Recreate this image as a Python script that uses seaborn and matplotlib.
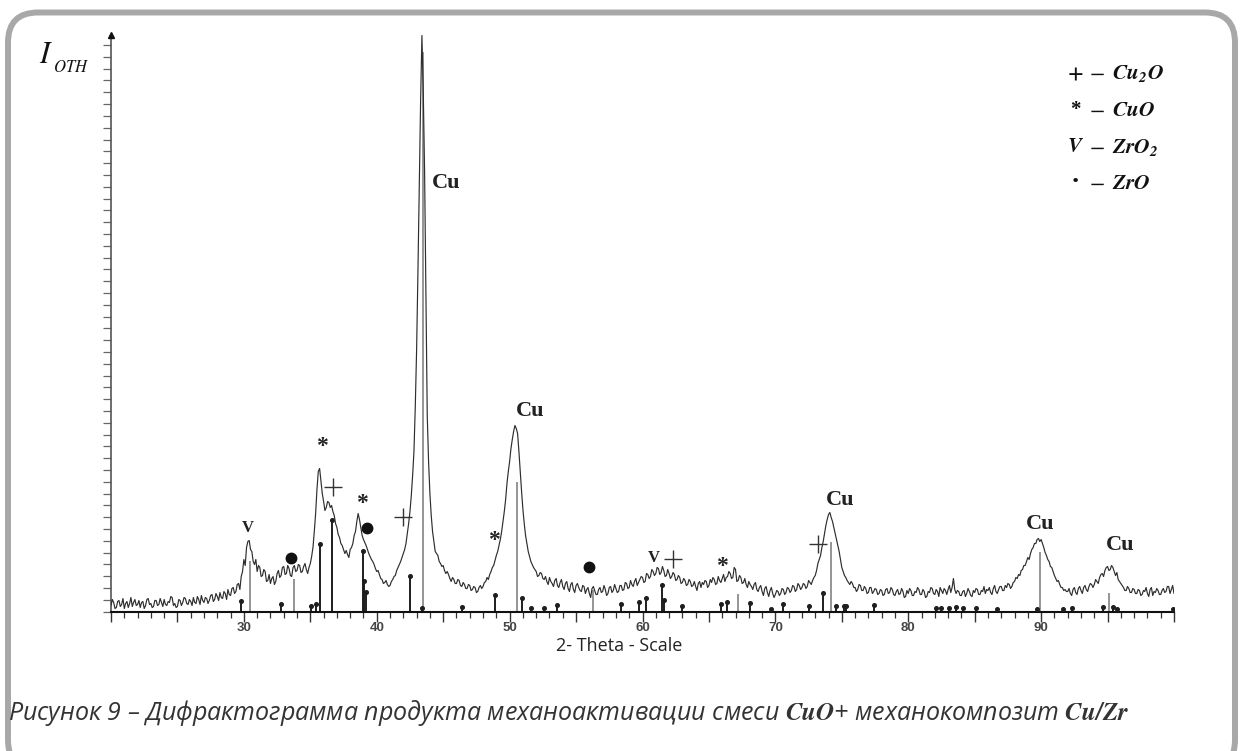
import numpy as np
import pandas as pd
import matplotlib
matplotlib.use("Agg")
import matplotlib.pyplot as plt
import seaborn as sns
from matplotlib.patches import FancyBboxPatch
from matplotlib.transforms import IdentityTransform
from matplotlib.ticker import MultipleLocator, FuncFormatter

# ---------------- data ----------------
theta_start = 20.0
theta_step = 0.1
intensity = [
    6, 12, 9, 3, 4, 10, 11, 5, 7, 13,          # 20
    3, 8, 10, 4, 8, 14, 5, 9, 12, 6,           # 21
    7, 11, 4, 9, 10, 3, 6, 12, 13, 7,          # 22
    8, 4, 5, 11, 11, 6, 7, 13, 9, 5,           # 23
    12, 7, 6, 10, 9, 15, 14, 6, 8, 4,          # 24
    5, 12, 11, 6, 9, 14, 13, 8, 7, 12,         # 25
    10, 6, 14, 9, 8, 15, 12, 7, 16, 11,        # 26
    9, 14, 13, 8, 11, 16, 17, 10, 12, 18,      # 27
    15, 11, 19, 14, 13, 20, 18, 12, 22, 17,    # 28
    16, 23, 24, 18, 20, 27, 28, 22, 35, 40,    # 29
    52, 46, 64, 70, 71, 62, 60, 50, 47, 52,    # 30
    40, 46, 44, 35, 36, 42, 40, 30, 31, 37,    # 31
    28, 33, 35, 27, 30, 38, 41, 34, 36, 44,    # 32
    45, 37, 38, 46, 43, 36, 35, 44, 46, 40,    # 33
    41, 47, 46, 39, 40, 45, 48, 42, 38, 44,    # 34
    48, 55, 64, 80, 98, 122, 140, 143, 130, 118,   # 35
    110, 101, 104, 110, 109, 104, 106, 100, 96, 88,  # 36
    84, 77, 74, 68, 66, 62, 58, 61, 57, 54,    # 37
    62, 64, 68, 76, 80, 90, 98, 92, 84, 76,    # 38
    72, 69, 66, 62, 58, 55, 52, 50, 47, 43,    # 39
    40, 41, 37, 33, 32, 28, 29, 31, 27, 25,    # 40
    26, 30, 32, 35, 36, 41, 44, 47, 50, 54,    # 41
    58, 62, 68, 78, 88, 100, 116, 136, 160, 205,   # 42
    262, 340, 425, 510, 576, 520, 440, 320, 196, 150,  # 43
    118, 96, 80, 70, 60, 58, 56, 50, 48, 45,   # 44
    46, 41, 38, 40, 37, 33, 30, 34, 32, 28,    # 45
    28, 32, 31, 26, 25, 29, 27, 23, 23, 27,    # 46
    26, 21, 22, 25, 24, 19, 20, 24, 26, 23,    # 47
    25, 29, 30, 34, 32, 37, 40, 44, 46, 51,    # 48
    56, 60, 66, 72, 80, 90, 100, 112, 128, 140,    # 49
    150, 163, 172, 180, 186, 183, 178, 160, 140, 120,  # 50
    102, 88, 76, 68, 60, 55, 50, 47, 44, 42,   # 51
    40, 35, 36, 39, 38, 33, 32, 35, 30, 27,    # 52
    34, 30, 28, 25, 31, 33, 26, 24, 29, 32,    # 53
    25, 22, 28, 30, 23, 20, 27, 29, 22, 19,    # 54
    26, 28, 24, 21, 20, 26, 25, 18, 22, 24,    # 55
    18, 14, 23, 25, 21, 17, 17, 22, 24, 19,    # 56
    20, 26, 22, 16, 18, 24, 25, 19, 21, 27,    # 57
    23, 19, 20, 26, 26, 21, 22, 29, 28, 23,    # 58
    24, 31, 27, 25, 30, 33, 26, 29, 32, 35,    # 59
    34, 29, 30, 38, 37, 33, 35, 42, 40, 36,    # 60
    38, 44, 43, 37, 39, 45, 41, 35, 36, 42,    # 61
    38, 33, 35, 39, 37, 31, 32, 36, 34, 28,    # 62
    29, 33, 31, 26, 27, 32, 30, 25, 26, 30,    # 63
    25, 21, 28, 30, 24, 29, 27, 31, 30, 24,    # 64
    26, 32, 29, 34, 32, 27, 28, 35, 31, 29,    # 65
    33, 37, 30, 34, 35, 40, 38, 33, 34, 44,    # 66
    42, 30, 31, 36, 34, 28, 29, 33, 27, 24,    # 67
    30, 27, 25, 22, 27, 29, 22, 20, 24, 26,    # 68
    20, 16, 23, 25, 19, 15, 21, 24, 18, 14,    # 69
    17, 21, 20, 16, 18, 23, 22, 17, 19, 24,    # 70
    23, 19, 21, 26, 25, 20, 22, 28, 26, 22,    # 71
    24, 28, 27, 23, 25, 31, 29, 27, 31, 34,    # 72
    36, 41, 48, 52, 56, 64, 70, 78, 86, 92,    # 73
    97, 99, 94, 90, 84, 78, 72, 66, 60, 52,    # 74
    44, 40, 36, 34, 31, 29, 27, 30, 28, 24,    # 75
    24, 20, 22, 27, 26, 21, 21, 25, 23, 18,    # 76
    19, 24, 24, 18, 20, 23, 22, 17, 18, 22,    # 77
    21, 16, 17, 22, 23, 18, 19, 24, 22, 17,    # 78
    16, 20, 22, 17, 18, 23, 20, 14, 15, 21,    # 79
    18, 23, 21, 16, 16, 20, 19, 24, 22, 17,    # 80
    17, 22, 20, 14, 15, 20, 19, 24, 23, 18,    # 81
    17, 22, 20, 15, 24, 21, 18, 23, 21, 17,    # 82
    22, 26, 19, 24, 33, 22, 18, 21, 20, 16,    # 83
    16, 20, 21, 15, 18, 23, 20, 16, 15, 21,    # 84
    19, 23, 22, 17, 17, 21, 20, 25, 18, 22,    # 85
    21, 24, 19, 17, 23, 26, 20, 18, 22, 25,    # 86
    25, 21, 21, 26, 24, 28, 27, 23, 25, 29,    # 87
    30, 34, 33, 37, 36, 41, 42, 46, 46, 50,    # 88
    54, 52, 58, 62, 64, 68, 68, 72, 73, 70,    # 89
    72, 68, 64, 59, 56, 52, 50, 45, 44, 40,    # 90
    36, 33, 30, 31, 27, 24, 24, 21, 22, 20,    # 91
    20, 23, 18, 16, 22, 24, 19, 17, 23, 25,    # 92
    21, 18, 24, 26, 22, 20, 25, 28, 27, 24,    # 93
    27, 32, 30, 28, 34, 37, 38, 35, 41, 44,    # 94
    45, 41, 42, 46, 44, 40, 36, 39, 32, 30,    # 95
    28, 26, 24, 21, 21, 25, 23, 19, 19, 23,    # 96
    22, 18, 18, 22, 21, 16, 17, 21, 20, 24,    # 97
    18, 15, 22, 24, 16, 20, 19, 23, 21, 17,    # 98
    17, 21, 23, 19, 20, 25, 25, 18, 22, 26,    # 99
    18,                                         # 100
]

# reference stick pattern (black = with cap dot, grey = plain line)
black_pos = [29.77, 32.8, 35.05, 35.42, 35.7, 36.6, 38.93, 39.05, 39.2, 42.5,
             43.38, 46.4, 48.9, 50.9, 51.6, 52.6, 53.6, 58.4, 59.7, 60.3,
             61.5, 61.65, 63.0, 65.9, 66.35, 68.1, 69.7, 70.55, 72.5, 73.55,
             74.6, 75.15, 75.3, 77.4, 82.1, 82.5, 83.1, 83.6, 84.1, 85.1,
             86.7, 89.7, 91.65, 92.3, 94.65, 95.4, 95.7, 99.9]
black_h = [11, 8, 6, 8, 68, 92, 61, 31, 20, 36,
           4, 5, 17, 14, 4, 4, 7, 8, 10, 14,
           27, 12, 6, 8, 10, 9, 3, 8, 6, 19,
           6, 6, 6, 7, 4, 4, 4, 5, 4, 4,
           3, 3, 3, 4, 5, 5, 3, 3]
grey_pos = [30.47, 33.75, 43.45, 50.55, 56.3, 67.2, 74.15, 89.95, 95.1]
grey_h = [51, 33, 560, 130, 22, 18, 70, 60, 19]

# phase marks above peaks
cu_x = [45.25, 51.57, 74.85, 89.95, 95.97]
cu_y = [431.5, 203.5, 114.0, 90.0, 68.5]
v_x = [30.27, 60.85]
v_y = [85.5, 55.5]
star_x = [35.85, 38.9, 48.8, 65.98]
star_y = [171.5, 114.0, 77.5, 51.5]
plus_x = [36.68, 41.97, 62.3, 73.2]
plus_y = [125.0, 95.0, 53.0, 68.0]
dot_x = [33.54, 39.25, 55.98]
dot_y = [54.0, 84.0, 45.0]

legend_symbols = [r"$\mathbf{+}$", "*", r"$\mathbfit{V}$", "\u00b7"]
legend_phases = [r"$\mathbfit{Cu_2O}$", r"$\mathbfit{CuO}$", r"$\mathbfit{ZrO_2}$", r"$\mathbfit{ZrO}$"]

xtick_labels = [30, 40, 50, 60, 70, 80, 90]

caption = ("Рисунок 9 – Дифрактограмма продукта механоактивации смеси "
           r"$\mathbfit{CuO}$" "+ механокомпозит " r"$\mathbfit{Cu/Zr}$")
xlabel = "2- Theta - Scale"
ylabel_main = r"$I$"
ylabel_sub = r"$OTH$"

# ---------------- drawing ----------------
sns.set_theme(style="ticks")
plt.rcParams["font.family"] = ["DejaVu Sans"]
plt.rcParams["mathtext.fontset"] = "stix"

W, H = 1244, 751
fig = plt.figure(figsize=(W / 100, H / 100), dpi=100)
fig.patch.set_facecolor("white")

def fx(px):
    return px / W

def fy(py):
    return 1 - py / H

ax = fig.add_axes([fx(111), fy(611.5), (1174 - 111) / W, (611.5 - 35) / H])
ax.set_facecolor("white")

theta = np.round(theta_start + theta_step * np.arange(len(intensity)), 2)
df = pd.DataFrame({"theta": theta, "I": intensity})

# stick pattern
ax.vlines(grey_pos, 0, grey_h, color="#8c8c8c", lw=1.3, zorder=2)
ax.vlines(black_pos, 0, black_h, color="#1e1e1e", lw=1.4, zorder=2)
ax.plot(black_pos, black_h, "o", ms=2.6, color="#1e1e1e", zorder=3)

sns.lineplot(data=df, x="theta", y="I", ax=ax, color="#2e2e2e", lw=0.85,
             estimator=None, zorder=4)

ax.set_xlim(20, 100)
ax.set_ylim(0, 576.5)
ax.set_xlabel("")
ax.set_ylabel("")

ax.xaxis.set_major_locator(MultipleLocator(5))
ax.xaxis.set_minor_locator(MultipleLocator(1))
ax.xaxis.set_major_formatter(FuncFormatter(
    lambda v, p: f"{int(round(v))}" if int(round(v)) in xtick_labels else ""))
ax.yaxis.set_major_locator(MultipleLocator(11.8))
ax.tick_params(axis="x", which="major", length=7, width=1.0, direction="out",
               color="#333333", labelsize=9.5, labelcolor="#444444", pad=0.5)
ax.tick_params(axis="x", which="minor", length=4, width=0.9, direction="out",
               color="#333333")
ax.tick_params(axis="y", which="major", length=6, width=0.9, direction="out",
               color="#666666", labelleft=False)
for lab in ax.get_xticklabels():
    lab.set_fontfamily("Liberation Sans")
    lab.set_fontweight("bold")

for s in ["top", "right"]:
    ax.spines[s].set_visible(False)
ax.spines["left"].set_color("#555555")
ax.spines["left"].set_linewidth(1.2)
ax.spines["bottom"].set_color("#111111")
ax.spines["bottom"].set_linewidth(1.5)

ax.plot([20], [576.5], marker="^", ms=5, color="#111111", clip_on=False, zorder=5)

# phase marks
for x, y in zip(cu_x, cu_y):
    ax.annotate("Cu", (x, y), xytext=(0, -5.4), textcoords="offset points",
                ha="center", va="baseline", fontsize=16, fontweight="bold",
                fontfamily="Liberation Serif", color="#222222")
for x, y in zip(v_x, v_y):
    ax.annotate("V", (x, y), xytext=(0, -4.0), textcoords="offset points",
                ha="center", va="baseline", fontsize=12, fontweight="bold",
                fontfamily="Liberation Serif", color="#222222")
for x, y in zip(star_x, star_y):
    ax.annotate("*", (x, y), xytext=(0, -8.5), textcoords="offset points",
                ha="center", va="baseline", fontsize=17, fontweight="bold",
                fontfamily="Liberation Serif", color="#222222")
ax.plot(plus_x, plus_y, "+", ms=13, mew=1.0, color="#333333", zorder=5)
ax.plot(dot_x, dot_y, "o", ms=7.5, color="#111111", zorder=5)

# legend block (top right)
leg_rows = [73, 110, 147, 183]
leg_sizes = [15, 15, 15, 20]
for i, (sym, ph) in enumerate(zip(legend_symbols, legend_phases)):
    y = leg_rows[i]
    fig.text(fx(1075), fy(y), sym, ha="center", va="center", fontsize=leg_sizes[i],
             fontweight="bold", fontfamily="Liberation Serif", color="#111111")
    fig.text(fx(1097), fy(y), r"$-$", ha="center", va="center", fontsize=16, color="#111111")
    fig.text(fx(1112), fy(y), ph, ha="left", va="center", fontsize=15.5, color="#111111")

# axis labels
fig.text(fx(39), fy(63), ylabel_main, ha="left", va="baseline", fontsize=22, color="#111111")
fig.text(fx(53), fy(72), ylabel_sub, ha="left", va="baseline", fontsize=12, color="#111111")
fig.text(fx(619), fy(646), xlabel, ha="center", va="center", fontsize=13,
         fontfamily="Open Sans", color="#222222")

# caption
fig.text(fx(8), fy(720), caption, ha="left", va="baseline", fontsize=18,
         fontfamily="Open Sans", style="italic", color="#333333")

# rounded frame (bottom edge lies below the picture)
frame = FancyBboxPatch((8, H - 770), 1235 - 8, 770 - 12.5,
                       boxstyle="round,pad=0,rounding_size=30",
                       transform=IdentityTransform(), fill=False,
                       edgecolor="#a8a8a8", linewidth=4.3, zorder=0)
fig.add_artist(frame)

fig.savefig("out.png", dpi=100, facecolor="white")
